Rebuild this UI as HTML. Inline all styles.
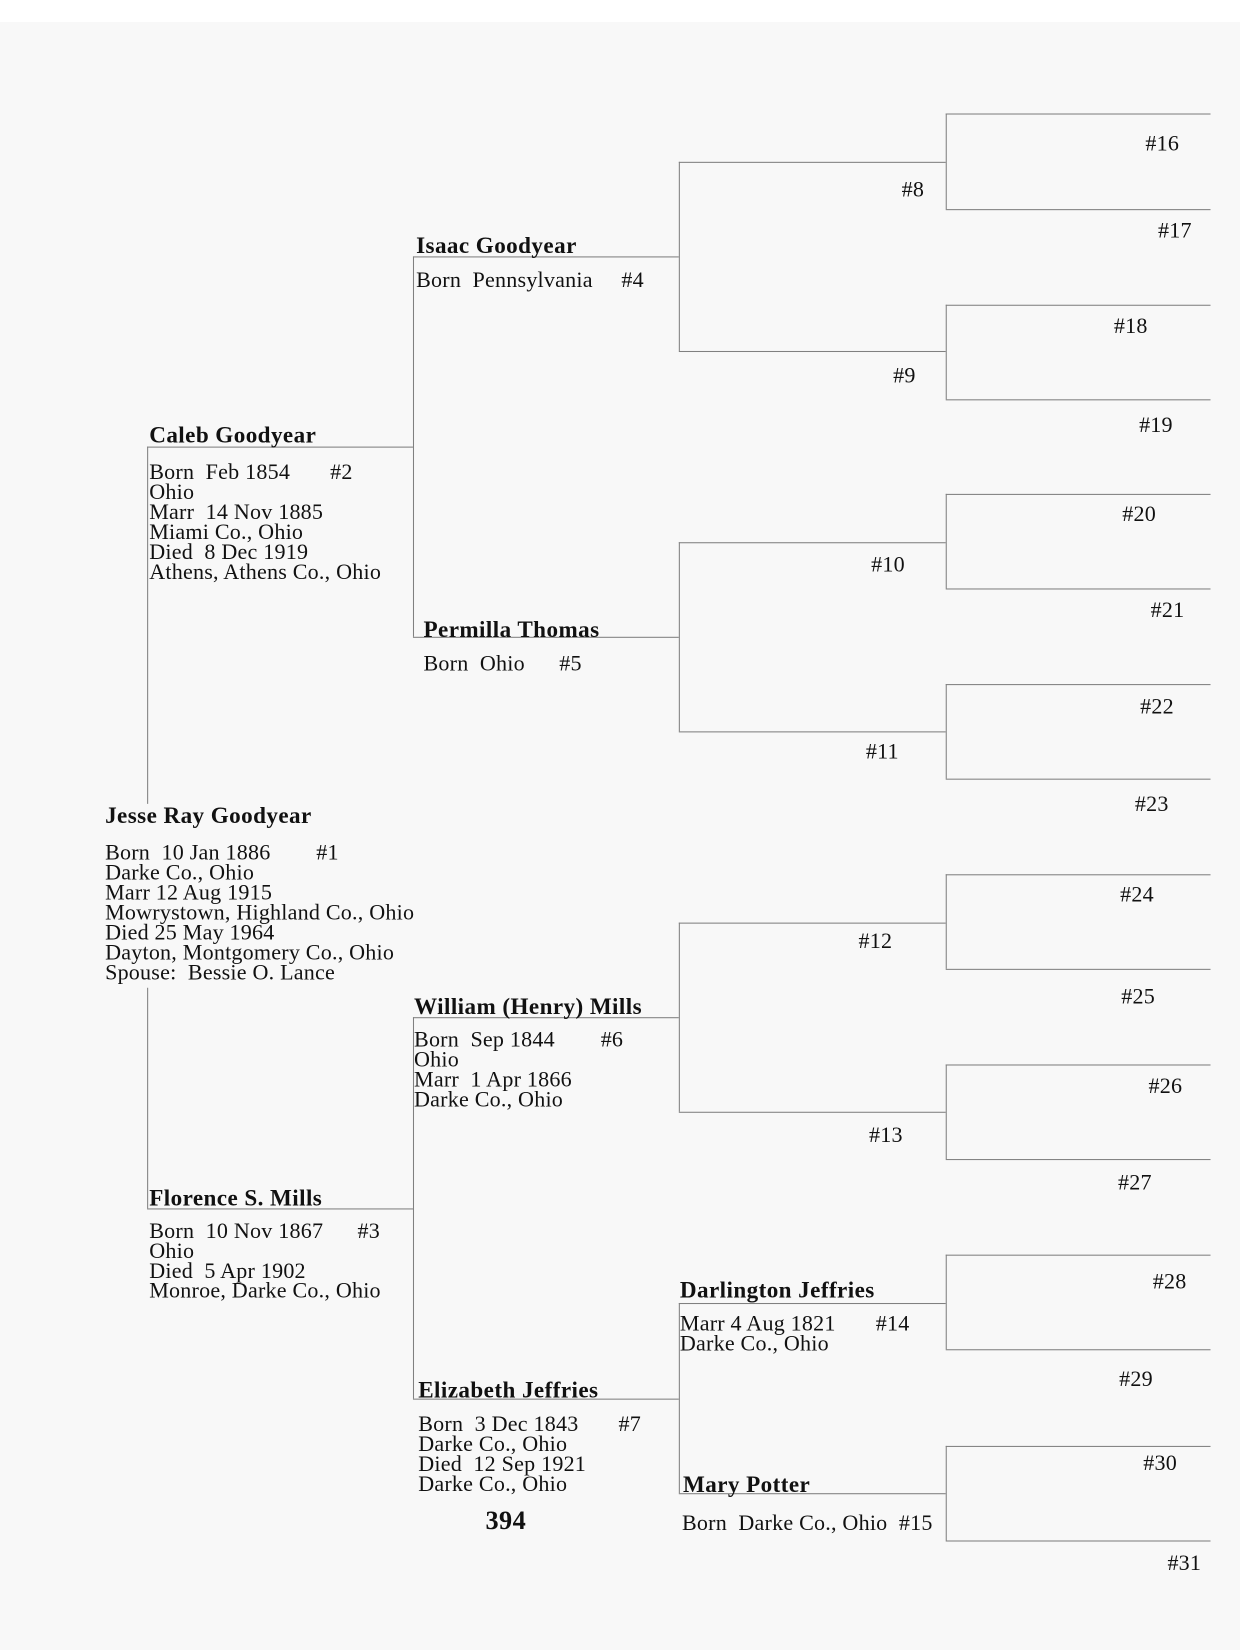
<!DOCTYPE html>
<html><head><meta charset="utf-8"><style>
html,body{margin:0;padding:0;}
body{width:1240px;height:1650px;overflow:hidden;background:#f8f8f8;position:relative;}
#top{position:absolute;left:0;top:0;width:1240px;height:22px;background:#fff;}
#c{position:absolute;left:0;top:0;width:1180px;height:1570px;transform:scale(1.0508);transform-origin:0 0;font-family:"Liberation Serif",serif;color:#111;}
.h,.v{position:absolute;background:#808080;}
.h{height:1px}.v{width:1px}
.t{position:absolute;font-size:21px;line-height:19px;white-space:pre;letter-spacing:0.2px;}
.n{position:absolute;font-size:22px;font-weight:bold;line-height:22px;white-space:pre;letter-spacing:0.4px;}
</style></head><body><div id="top"></div><div id="c">
<div class="v" style="left:140px;top:425px;height:340px"></div>
<div class="v" style="left:140px;top:940px;height:210px"></div>
<div class="h" style="left:140px;top:425px;width:253px"></div>
<div class="h" style="left:140px;top:1150px;width:253px"></div>
<div class="v" style="left:393px;top:244px;height:362px"></div>
<div class="v" style="left:393px;top:968px;height:363px"></div>
<div class="h" style="left:393px;top:244px;width:253px"></div>
<div class="h" style="left:393px;top:606px;width:253px"></div>
<div class="h" style="left:393px;top:968px;width:253px"></div>
<div class="h" style="left:393px;top:1331px;width:253px"></div>
<div class="v" style="left:646px;top:154px;height:180px"></div>
<div class="v" style="left:646px;top:516px;height:180px"></div>
<div class="v" style="left:646px;top:878px;height:180px"></div>
<div class="v" style="left:646px;top:1240px;height:181px"></div>
<div class="h" style="left:646px;top:154px;width:254px"></div>
<div class="h" style="left:646px;top:334px;width:254px"></div>
<div class="h" style="left:646px;top:516px;width:254px"></div>
<div class="h" style="left:646px;top:696px;width:254px"></div>
<div class="h" style="left:646px;top:878px;width:254px"></div>
<div class="h" style="left:646px;top:1058px;width:254px"></div>
<div class="h" style="left:646px;top:1240px;width:254px"></div>
<div class="h" style="left:646px;top:1421px;width:254px"></div>
<div class="v" style="left:900px;top:108px;height:91px"></div>
<div class="v" style="left:900px;top:290px;height:90px"></div>
<div class="v" style="left:900px;top:470px;height:90px"></div>
<div class="v" style="left:900px;top:651px;height:90px"></div>
<div class="v" style="left:900px;top:832px;height:90px"></div>
<div class="v" style="left:900px;top:1013px;height:90px"></div>
<div class="v" style="left:900px;top:1194px;height:90px"></div>
<div class="v" style="left:900px;top:1376px;height:90px"></div>
<div class="h" style="left:900px;top:108px;width:252px"></div>
<div class="h" style="left:900px;top:199px;width:252px"></div>
<div class="h" style="left:900px;top:290px;width:252px"></div>
<div class="h" style="left:900px;top:380px;width:252px"></div>
<div class="h" style="left:900px;top:470px;width:252px"></div>
<div class="h" style="left:900px;top:560px;width:252px"></div>
<div class="h" style="left:900px;top:651px;width:252px"></div>
<div class="h" style="left:900px;top:741px;width:252px"></div>
<div class="h" style="left:900px;top:832px;width:252px"></div>
<div class="h" style="left:900px;top:922px;width:252px"></div>
<div class="h" style="left:900px;top:1013px;width:252px"></div>
<div class="h" style="left:900px;top:1103px;width:252px"></div>
<div class="h" style="left:900px;top:1194px;width:252px"></div>
<div class="h" style="left:900px;top:1284px;width:252px"></div>
<div class="h" style="left:900px;top:1376px;width:252px"></div>
<div class="h" style="left:900px;top:1466px;width:252px"></div>

<div class="n" style="left:100px;top:765px">Jesse Ray Goodyear</div>
<div class="t" style="left:100px;top:802px">Born  10 Jan 1886        #1
Darke Co., Ohio
Marr 12 Aug 1915
Mowrystown, Highland Co., Ohio
Died 25 May 1964
Dayton, Montgomery Co., Ohio
Spouse:  Bessie O. Lance</div>

<div class="n" style="left:142px;top:403px">Caleb Goodyear</div>
<div class="t" style="left:142px;top:440px">Born  Feb 1854       #2
Ohio
Marr  14 Nov 1885
Miami Co., Ohio
Died  8 Dec 1919
Athens, Athens Co., Ohio</div>

<div class="n" style="left:142px;top:1129px">Florence S. Mills</div>
<div class="t" style="left:142px;top:1162px">Born  10 Nov 1867      #3
Ohio
Died  5 Apr 1902
Monroe, Darke Co., Ohio</div>

<div class="n" style="left:396px;top:223px">Isaac Goodyear</div>
<div class="t" style="left:396px;top:257px">Born  Pennsylvania     #4</div>

<div class="n" style="left:403px;top:588px">Permilla Thomas</div>
<div class="t" style="left:403px;top:622px">Born  Ohio      #5</div>

<div class="n" style="left:394px;top:947px">William (Henry) Mills</div>
<div class="t" style="left:394px;top:980px">Born  Sep 1844        #6
Ohio
Marr  1 Apr 1866
Darke Co., Ohio</div>

<div class="n" style="left:398px;top:1312px">Elizabeth Jeffries</div>
<div class="t" style="left:398px;top:1346px">Born  3 Dec 1843       #7
Darke Co., Ohio
Died  12 Sep 1921
Darke Co., Ohio</div>

<div class="n" style="left:647px;top:1217px">Darlington Jeffries</div>
<div class="t" style="left:647px;top:1250px">Marr 4 Aug 1821       #14
Darke Co., Ohio</div>

<div class="n" style="left:650px;top:1402px">Mary Potter</div>
<div class="t" style="left:649px;top:1440px">Born  Darke Co., Ohio  #15</div>

<div class="n" style="left:462px;top:1437px;font-size:25px">394</div>

<div class="t" style="left:858px;top:171px">#8</div>
<div class="t" style="left:850px;top:348px">#9</div>
<div class="t" style="left:829px;top:528px">#10</div>
<div class="t" style="left:824px;top:706px">#11</div>
<div class="t" style="left:817px;top:886px">#12</div>
<div class="t" style="left:827px;top:1071px">#13</div>
<div class="t" style="left:1090px;top:127px">#16</div>
<div class="t" style="left:1102px;top:210px">#17</div>
<div class="t" style="left:1060px;top:301px">#18</div>
<div class="t" style="left:1084px;top:395px">#19</div>
<div class="t" style="left:1068px;top:480px">#20</div>
<div class="t" style="left:1095px;top:571px">#21</div>
<div class="t" style="left:1085px;top:663px">#22</div>
<div class="t" style="left:1080px;top:756px">#23</div>
<div class="t" style="left:1066px;top:842px">#24</div>
<div class="t" style="left:1067px;top:939px">#25</div>
<div class="t" style="left:1093px;top:1024px">#26</div>
<div class="t" style="left:1064px;top:1116px">#27</div>
<div class="t" style="left:1097px;top:1210px">#28</div>
<div class="t" style="left:1065px;top:1303px">#29</div>
<div class="t" style="left:1088px;top:1383px">#30</div>
<div class="t" style="left:1111px;top:1478px">#31</div>
</div></body></html>
